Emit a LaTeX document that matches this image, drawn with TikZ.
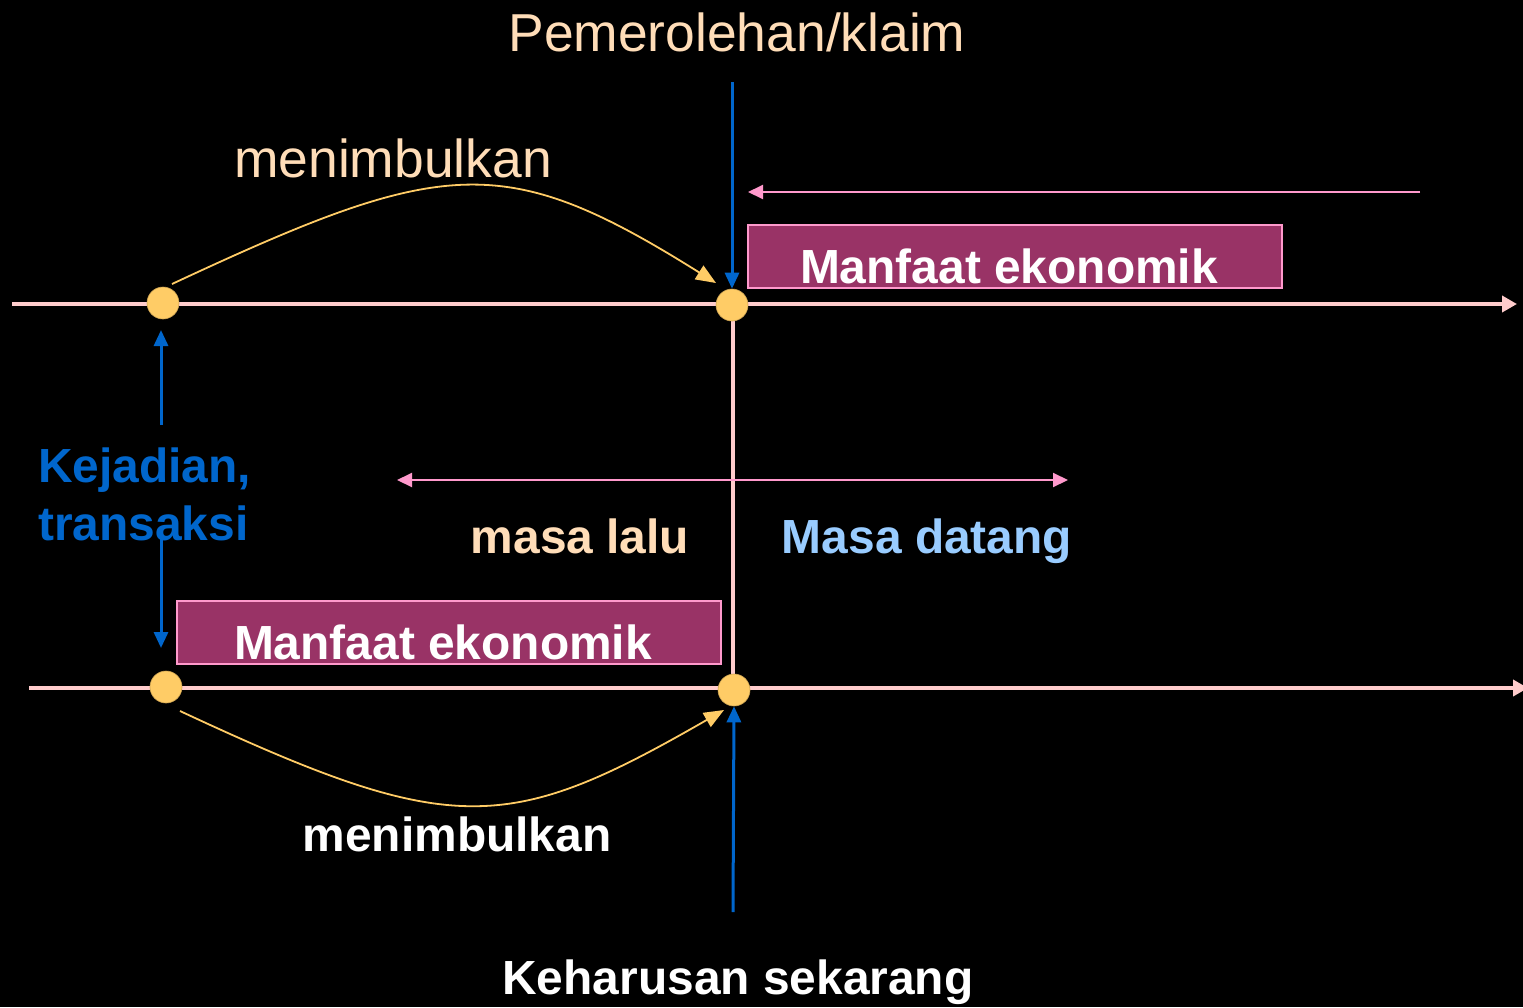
\documentclass[tikz,border=0pt]{standalone}
\usepackage{fontspec}
\setmainfont{Liberation Sans}
\usetikzlibrary{arrows.meta}
\definecolor{peach}{HTML}{FFDDB8}
\definecolor{lblue}{HTML}{99CCFF}
\definecolor{dblue}{HTML}{0066CC}
\definecolor{boxfill}{HTML}{993366}
\definecolor{pinkline}{HTML}{FF99CC}
\definecolor{tline}{HTML}{FFCCCC}
\definecolor{dotc}{HTML}{FFCC66}
\tikzset{
  timeline/.style={tline, line width=4pt, -{Triangle[length=15pt,width=16pt]}},
  bluearrow/.style={dblue, line width=3pt, -{Triangle[length=16pt,width=14pt]}},
  pinkarrow/.style={pinkline, line width=2pt, -{Triangle[length=15pt,width=14pt]}},
  curvearrow/.style={dotc, line width=1.8pt, -{Triangle[length=20pt,width=16pt]}},
  dot/.style={circle, fill=dotc, draw=dotc!80!black, line width=0.6pt, minimum size=32pt, inner sep=0pt},
  ebox/.style={draw=pinkline, fill=boxfill, line width=2pt},
  reg/.style={inner sep=0pt, font=\fontsize{53.4}{60}\selectfont},
  bld/.style={inner sep=0pt, font=\fontsize{47.9}{54}\selectfont\bfseries},
}
\begin{document}
\begin{tikzpicture}[x=1pt,y=-1pt]
\fill[black] (0,0) rectangle (1523,1007);
\useasboundingbox (0,0) rectangle (1523,1007);

% boxes
\draw[ebox] (748,225) rectangle (1282,288);
\draw[ebox] (177,601) rectangle (721,664);

% timelines
\coordinate (t1s) at (12,304);
\coordinate (t1e) at (1517,304);
\coordinate (t2s) at (29,688);
\coordinate (t2e) at (1528,688);
\draw[timeline] (t1s) -- (t1e);
\draw[timeline] (t2s) -- (t2e);

% vertical pink
\coordinate (vtop) at (732.5,305);
\coordinate (vbot) at (732.5,690);
\draw[tline, line width=4pt] (vtop) -- (vbot);

% dots
\node[dot] (c1) at (163,303) {};
\node[dot] (c2) at (732,305) {};
\node[dot] (c3) at (166,687) {};
\node[dot] (c4) at (734,690) {};

% blue arrows
\coordinate (b1s) at (732,82);
\draw[bluearrow] (b1s) -- (c2.north);
\coordinate (b2s) at (733,912);
\draw[bluearrow] (b2s) -- (c4.south);
\coordinate (b3s) at (161,425);
\coordinate (b3e) at (161,330);
\draw[bluearrow] (b3s) -- (b3e);
\coordinate (b4s) at (161,537);
\coordinate (b4e) at (161,648);
\draw[bluearrow] (b4s) -- (b4e);

% pink arrows
\coordinate (p1s) at (1420,192);
\coordinate (p1e) at (748,192);
\draw[pinkarrow] (p1s) -- (p1e);
\coordinate (p2s) at (397,480);
\coordinate (p2e) at (1068,480);
\draw[pinkarrow, {Triangle[length=15pt,width=14pt]}-{Triangle[length=15pt,width=14pt]}] (p2s) -- (p2e);

% curves
\coordinate (y1s) at (172,284);
\coordinate (y1e) at (716,283);
\draw[curvearrow] (y1s) .. controls (444,157) and (504,150) .. (y1e);
\coordinate (y2s) at (180,711);
\coordinate (y2e) at (724,710);
\draw[curvearrow] (y2s) .. controls (452,838) and (507,835) .. (y2e);

% texts
\node[reg, peach, anchor=base] (tPem) at (737,51) {Pemerolehan/klaim};
\node[reg, peach, anchor=base] (tMen1) at (393,177) {menimbulkan};
\node[bld, white, anchor=base] (tM1) at (1009,283) {Manfaat ekonomik};
\node[bld, white, anchor=base] (tM2) at (443,659) {Manfaat ekonomik};
\node[bld, dblue, anchor=base west] (tKej) at (38,482) {Kejadian,};
\node[bld, dblue, anchor=base west] (tTra) at (38,540) {transaksi};
\node[bld, peach, anchor=base] (tLalu) at (580,553) {masa lalu};
\node[bld, lblue, anchor=base] (tDat) at (927,553) {Masa datang};
\node[bld, white, anchor=base] (tMen2) at (457,851) {menimbulkan};
\node[bld, white, anchor=base] (tKeh) at (738,994) {Keharusan sekarang};
\end{tikzpicture}
\end{document}
